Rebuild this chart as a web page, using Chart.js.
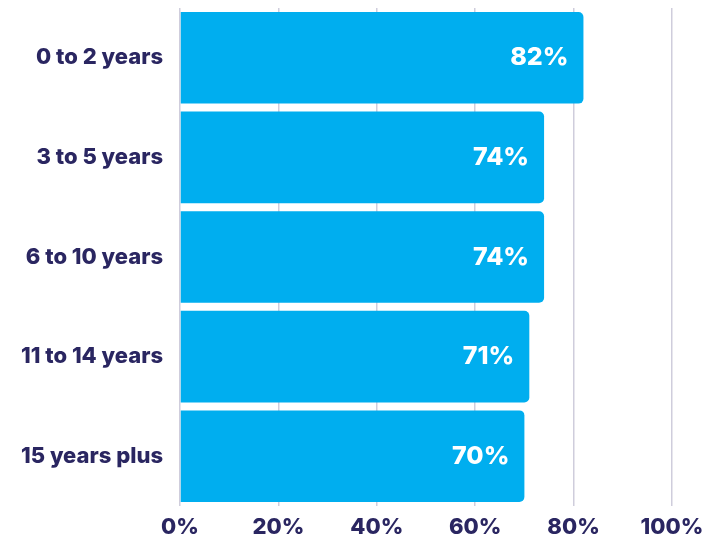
<!DOCTYPE html>
<html>
<head>
<meta charset="utf-8">
<script src="https://cdn.jsdelivr.net/npm/chart.js@4/dist/chart.umd.min.js"></script>
<style>
  html, body { margin: 0; padding: 0; background: #ffffff; }
  #wrap { width: 702px; height: 534px; position: relative; }
</style>
</head>
<body>
<div id="wrap"><canvas id="chart"></canvas></div>
<script>
/* Share by years of service, horizontal bars */

const CATEGORIES = ['0 to 2 years', '3 to 5 years', '6 to 10 years', '11 to 14 years', '15 years plus'];
const VALUES     = [82, 74, 74, 71, 70];
const X_TICKS    = [0, 20, 40, 60, 80, 100];

const BAR   = '#00aeef';
const NAVY  = '#2a2661';
const GRID  = '#cfcddc';
const FONT  = "Inter, 'Noto Sans', sans-serif";

// white value labels inside the bar end
const barLabels = {
  id: 'barLabels',
  afterDatasetsDraw(chart) {
    const ctx = chart.ctx;
    const meta = chart.getDatasetMeta(0);
    ctx.save();
    ctx.font = `800 25px ${FONT}`;
    ctx.fillStyle = '#ffffff';
    ctx.textAlign = 'right';
    ctx.textBaseline = 'middle';
    meta.data.forEach((bar, i) => {
      ctx.fillText(VALUES[i] + '%', bar.x - 15, bar.y);
    });
    ctx.restore();
  },
};

new Chart(document.getElementById('chart'), {
  type: 'bar',
  data: {
    labels: CATEGORIES,
    datasets: [{
      data: VALUES,
      backgroundColor: BAR,
      borderRadius: 5,
      borderSkipped: 'start',
      categoryPercentage: 0.92,
      barPercentage: 1,
    }],
  },
  options: {
    indexAxis: 'y',
    responsive: true,
    maintainAspectRatio: false,
    animation: false,
    layout: { padding: { top: 8, right: 30, left: 0, bottom: 0 } },
    plugins: { legend: { display: false }, tooltip: { enabled: false } },
    scales: {
      x: {
        min: 0, max: 100,
        afterBuildTicks: s => { s.ticks = X_TICKS.map(v => ({ value: v })); },
        afterFit: s => {
          s.height = 28;
          s.paddingLeft = 0;
          s.paddingRight = 0;
        },
        border: { display: false },
        grid: { color: GRID, lineWidth: 1.5, drawTicks: false },
        ticks: {
          color: NAVY,
          padding: 8,
          font: { family: FONT, size: 22, weight: '800' },
          callback: v => v + '%',
        },
      },
      y: {
        afterFit: s => {
          s.width = 180;
          s.paddingTop = 0;
          s.paddingBottom = 0;
        },
        border: { display: false },
        grid: { display: false, drawTicks: false },
        ticks: {
          color: NAVY,
          padding: 17,
          font: { family: FONT, size: 22, weight: '800' },
        },
      },
    },
  },
  plugins: [barLabels],
});
</script>
</body>
</html>
